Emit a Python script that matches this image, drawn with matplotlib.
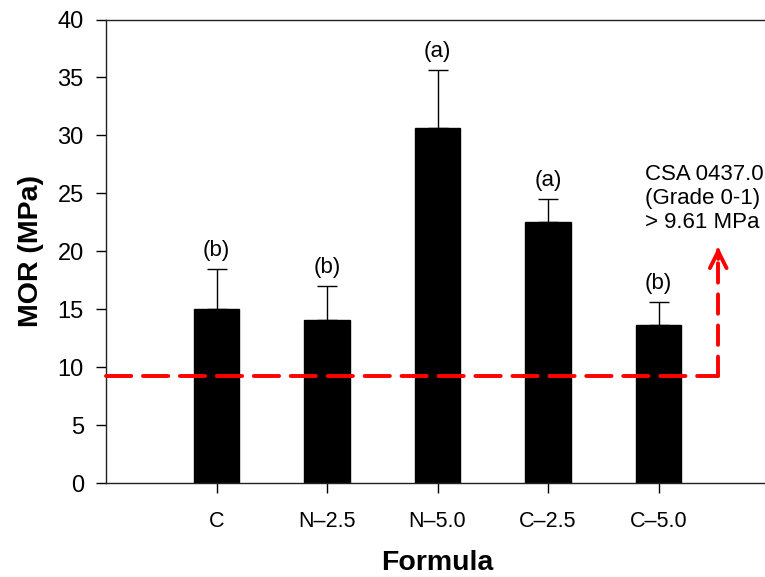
import matplotlib.pyplot as plt

plt.rcParams['font.family'] = ['Liberation Sans', 'DejaVu Sans']

formulas = ['C', 'N\u20132.5', 'N\u20135.0', 'C\u20132.5', 'C\u20135.0']
mor = [15.0, 14.05, 30.65, 22.55, 13.65]
mor_err = [3.45, 2.95, 4.95, 1.95, 1.95]
groups = ['(b)', '(b)', '(a)', '(a)', '(b)']
csa_limit = 9.25
arrow_top = 20.6

fig = plt.figure(figsize=(7.65, 5.77), dpi=100)
ax = fig.add_axes([0.1386, 0.1629, 0.8667, 0.8033])

x = [i + 1 for i in range(len(formulas))]
ax.bar(x, mor, width=0.41, color='black', edgecolor='black', zorder=2)
ax.errorbar(x, mor, yerr=[[0] * len(mor), mor_err], fmt='none', ecolor='black',
            elinewidth=1.0, capsize=7, capthick=1.0, zorder=3)

# significance letters above the error bars
for xi, m, e, g in zip(x, mor, mor_err, groups):
    ax.annotate(g, (xi, m + e), xytext=(0, 6), textcoords='offset points',
                ha='center', va='bottom', fontsize=16)

# CSA threshold line + arrow
arrow_x = 5.54
ax.plot([0, arrow_x], [csa_limit, csa_limit], color='red', lw=2.8,
        dashes=(6.5, 3), dash_capstyle='round', zorder=4, clip_on=False)
ax.plot([arrow_x, arrow_x], [csa_limit, arrow_top - 0.5], color='red', lw=2.8,
        dashes=(5, 3), dash_capstyle='round', zorder=4)
ax.annotate('', xy=(arrow_x, arrow_top), xytext=(arrow_x, arrow_top - 1.5),
            arrowprops=dict(arrowstyle='->', color='red', lw=2.8, mutation_scale=30))
ax.text(4.88, 27.5, 'CSA 0437.0\n(Grade 0-1)\n> 9.61 MPa', fontsize=16,
        ha='left', va='top', linespacing=1.18)

ax.set_xlim(0, 6)
ax.set_ylim(0, 40)
ax.set_yticks(range(0, 41, 5))
ax.set_xticks(x)
ax.set_xticklabels(formulas)
ax.tick_params(axis='y', labelsize=17, direction='out', length=7, width=1, pad=9)
ax.tick_params(axis='x', labelsize=15.5, direction='out', length=7, width=1, pad=13)

ax.set_ylabel('MOR (MPa)', fontsize=20.5, fontweight='bold', labelpad=10)
ax.set_xlabel('Formula', fontsize=20.5, fontweight='bold', labelpad=13)

ax.spines['right'].set_visible(False)
for s in ['left', 'top', 'bottom']:
    ax.spines[s].set_linewidth(1.0)
    ax.spines[s].set_color('#222222')

fig.savefig('out.png', dpi=100)
